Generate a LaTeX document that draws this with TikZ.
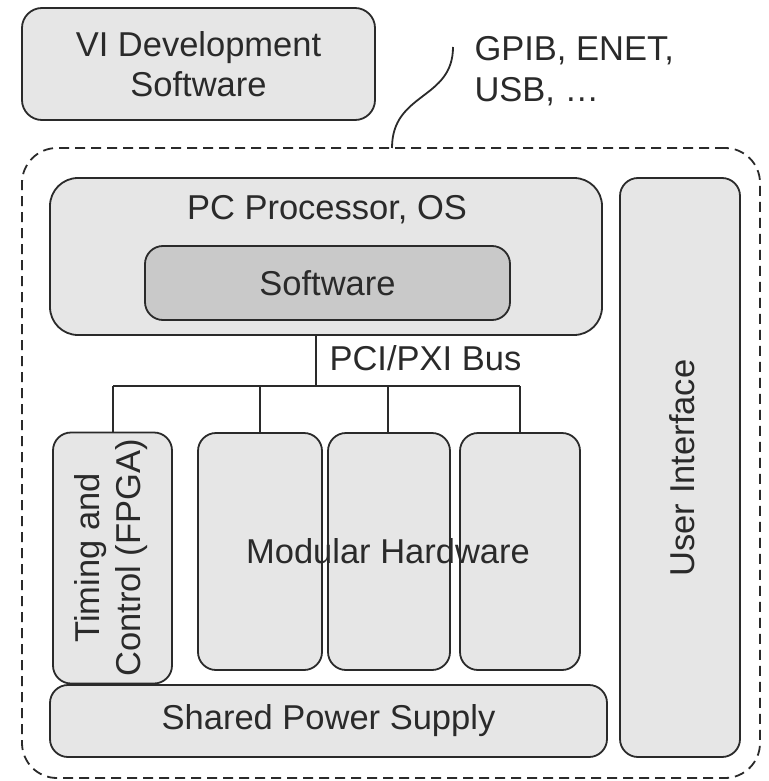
\documentclass[tikz,border=0pt]{standalone}
\usepackage{fontspec}
\setmainfont{Liberation Sans}
\definecolor{boxfill}{HTML}{E6E6E6}
\definecolor{softfill}{HTML}{C9C9C9}
\definecolor{ink}{HTML}{2A2A2A}
\begin{document}
\begin{tikzpicture}[x=1pt,y=1pt,
  every node/.style={text=ink, font=\fontsize{34.5}{40}\selectfont},
  box/.style={draw=ink, line width=1.8pt, fill=boxfill, rounded corners=18pt, inner sep=0pt},
  softbox/.style={box, fill=softfill},
  wire/.style={draw=ink, line width=1.8pt},
  outerbox/.style={draw=ink, line width=1.8pt, dash pattern=on 10pt off 6pt, rounded corners=35pt, inner sep=0pt}]
\useasboundingbox (0,0) rectangle (768,-781);
% outer dashed enclosure
\node[outerbox, minimum width=738pt, minimum height=630pt] (outer) at (391,-463) {};
% top box
\node[box, rounded corners=20pt, minimum width=353pt, minimum height=112pt, align=center] (vi) at (198.5,-64) {VI Development\\Software};
\node[anchor=base west, align=left, font=\fontsize{34.5}{41}\selectfont] (gpib) at (471,-102) {GPIB, ENET,\\USB, \dots};
\coordinate (ctop) at (453,-47);
\coordinate (cbot) at (392,-148);
\draw[wire] (ctop) .. controls (453,-100) and (392,-92) .. (cbot);
% PC
\node[box, rounded corners=28pt, minimum width=552pt, minimum height=157pt] (pc) at (326,-256.5) {};
\node (pctxt) at (327,-210) {PC Processor, OS};
\node[softbox, minimum width=365pt, minimum height=74pt] (sw) at (327.5,-283) {Software};
% UI
\node[box, minimum width=120pt, minimum height=579pt] (ui) at (680,-467.5) {};
\node[rotate=90] (uitxt) at (682,-468) {User Interface};
% modules
\node[box, minimum width=119pt, minimum height=251pt] (tim) at (112.5,-558) {};
\node[rotate=90, align=center, font=\fontsize{34.5}{41}\selectfont] (timtxt) at (111,-558) {Timing and\\Control (FPGA)};
\node[box, minimum width=124pt, minimum height=237pt] (m1) at (260,-551.5) {};
\node[box, minimum width=122pt, minimum height=237pt] (m2) at (389,-551.5) {};
\node[box, minimum width=120pt, minimum height=237pt] (m3) at (520,-551.5) {};
\node (modtxt) at (388,-551) {Modular Hardware};
% power
\node[box, minimum width=557pt, minimum height=72pt] (pw) at (328.5,-721) {Shared Power Supply};
% bus
\coordinate (bus) at (316,-386);
\draw[wire] (pc.south -| bus) -- (bus);
\draw[wire] (113,-386) coordinate (bl) -- (520,-386) coordinate (br);
\draw[wire] (bl) -- (bl |- tim.north);
\draw[wire] (m1.north |- bus) -- (m1.north);
\draw[wire] (388,-386) -- (388,-433);
\draw[wire] (br) -- (m3.north);
\node[anchor=west] (bustxt) at (326,-358) {PCI/PXI Bus};
\end{tikzpicture}
\end{document}
